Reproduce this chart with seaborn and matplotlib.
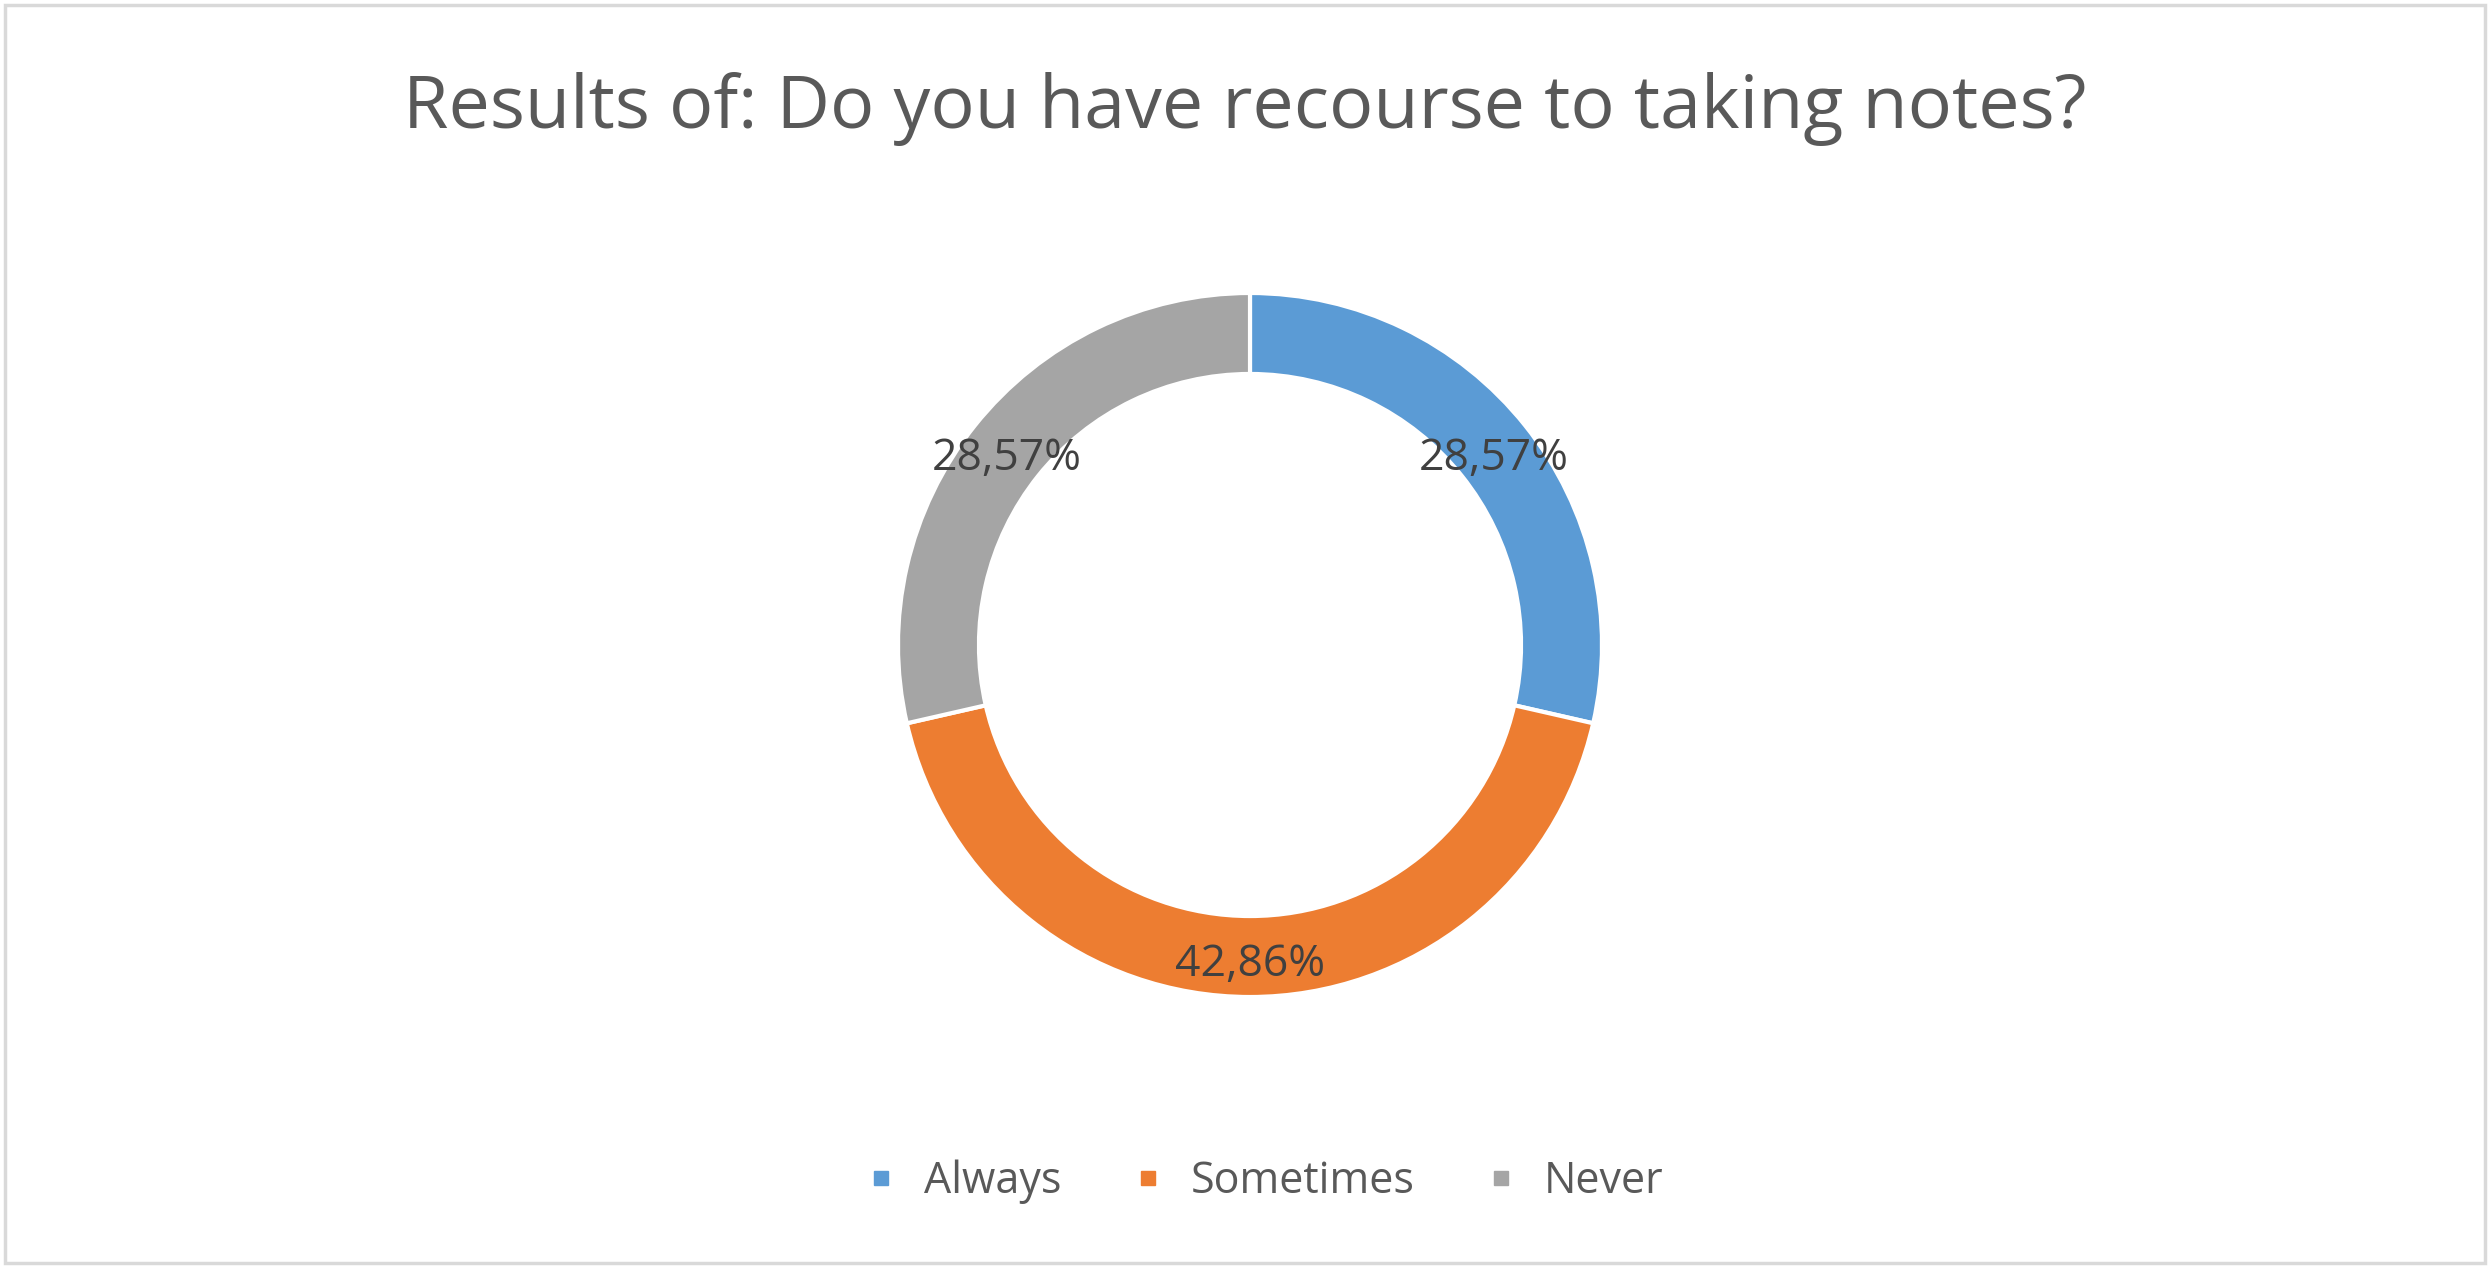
import matplotlib
matplotlib.use("Agg")
import matplotlib.pyplot as plt
from matplotlib.lines import Line2D
from matplotlib.patches import Rectangle
from matplotlib.transforms import offset_copy
import seaborn as sns

# Survey answers and their shares (percent)
categories = ["Always", "Sometimes", "Never"]
shares = [28.57, 42.86, 28.57]
labels_pct = ["28,57%", "42,86%", "28,57%"]
title = "Results of: Do you have recourse to taking notes?"

sns.set_theme(style="white")
plt.rcParams["font.family"] = ["Open Sans", "DejaVu Sans"]

palette = sns.color_palette(["#5B9BD5", "#ED7D31", "#A5A5A5"])

W, H = 2489, 1266
fig = plt.figure(figsize=(W / 100, H / 100), dpi=100)
fig.patch.set_facecolor("white")

# Outer chart border
fig.patches.append(Rectangle((5 / W, 3 / H), (W - 9) / W, (H - 8) / H,
                             transform=fig.transFigure, fill=False,
                             edgecolor="#D9D9D9", linewidth=2.5))

cx, cy, R = 1250, 645, 352
ax = fig.add_axes([(cx - R) / W, (H - cy - R) / H, 2 * R / W, 2 * R / H])

ring = 0.23
wedges, texts, autotexts = ax.pie(
    shares, colors=palette, startangle=90, counterclock=False, radius=1.0,
    wedgeprops=dict(width=ring, edgecolor="white", linewidth=3),
    autopct=lambda p: "", pctdistance=1 - ring / 2,
)
# Percentage labels sit on the ring, nudged a little below the mid-line
label_tr = offset_copy(ax.transData, fig=fig, x=0, y=-8, units="dots")
for t, lab in zip(autotexts, labels_pct):
    t.set_text(lab)
    t.set_fontsize(32)
    t.set_color("#404040")
    t.set_transform(label_tr)
ax.set_xlim(-1, 1)
ax.set_ylim(-1, 1)
ax.axis("off")

fig.text(1245 / W, 1 - 128 / H, title, ha="center", va="baseline",
         fontsize=53, color="#595959")

handles = [Line2D([0], [0], marker="s", linestyle="none", markersize=10,
                  markerfacecolor=c, markeredgecolor=c) for c in palette]
fig.legend(handles, categories, loc="center", ncol=3, frameon=False,
           bbox_to_anchor=(1266 / W, 1 - 1182 / H), fontsize=31,
           labelcolor="#595959", handlelength=0.6, handletextpad=0.7,
           columnspacing=1.7)

fig.savefig("out.png", dpi=100, facecolor="white")
